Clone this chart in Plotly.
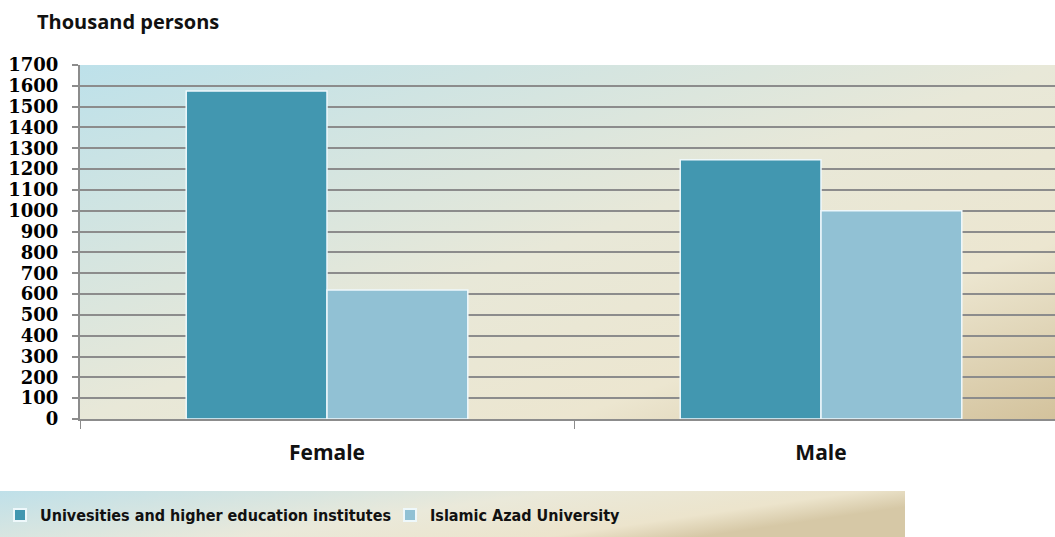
import base64
import plotly.graph_objects as go

categories = ["Female", "Male"]
series_names = ["Univesities and higher education institutes", "Islamic Azad University"]
universities = [1575, 1245]
azad = [620, 1000]
y_ticks = list(range(0, 1800, 100))

colors = ["#4297b0", "#91c1d4"]

W, H = 1055, 537
ML, MR, MT, MB = 80, 0, 65, 118
PW = W - ML - MR
PH = H - MT - MB

def svg_uri(stops, x2="1", y2="1"):
    st = "".join(f'<stop offset="{o}" stop-color="{c}"/>' for o, c in stops)
    svg = (f'<svg xmlns="http://www.w3.org/2000/svg" width="400" height="200" preserveAspectRatio="none" viewBox="0 0 400 200">'
           f'<defs><linearGradient id="g" x1="0" y1="0" x2="{x2}" y2="{y2}">{st}</linearGradient></defs>'
           f'<rect width="400" height="200" fill="url(#g)"/></svg>')
    return "data:image/svg+xml;base64," + base64.b64encode(svg.encode()).decode()

plot_bg = svg_uri([(0, "#bde1ea"), (0.5, "#e8e8d8"), (0.75, "#ece6d0"), (1, "#d3c29c")])
legend_bg = svg_uri([(0, "#bfe0e9"), (0.55, "#eae9da"), (0.85, "#ece4cc"), (1, "#d6c8a6")], x2="1", y2="0.35")

fig = go.Figure()
for name, vals, col in zip(series_names, [universities, azad], colors):
    fig.add_trace(go.Bar(
        x=categories, y=vals, name=name,
        marker=dict(color=col, line=dict(color="#eef8fb", width=1.5)),
    ))

def px_to_paper_x(px):
    return (px - ML) / PW

def px_to_paper_y(py):
    return (H - MB - py) / PH

fig.update_layout(
    width=W, height=H,
    margin=dict(l=ML, r=MR, t=MT, b=MB, pad=0),
    paper_bgcolor="white",
    plot_bgcolor="rgba(0,0,0,0)",
    barmode="group",
    bargap=0.43,
    bargroupgap=0,
    showlegend=True,
    legend=dict(
        orientation="h",
        x=px_to_paper_x(0), xanchor="left",
        y=px_to_paper_y(515), yanchor="middle",
        bgcolor="rgba(0,0,0,0)",
        font=dict(family="DejaVu Sans Condensed, Liberation Sans Narrow, sans-serif", size=16,
                  color="#111", weight="bold"),
        itemsizing="constant",
        itemwidth=30,
        entrywidth=345, entrywidthmode="pixels",
        traceorder="normal",
    ),
    images=[
        dict(source=plot_bg, xref="paper", yref="paper", x=0, y=1,
             sizex=1, sizey=1, sizing="stretch", layer="below", xanchor="left", yanchor="top"),
        dict(source=legend_bg, xref="paper", yref="paper",
             x=px_to_paper_x(0), y=px_to_paper_y(491),
             sizex=px_to_paper_x(905) - px_to_paper_x(0),
             sizey=px_to_paper_y(491) - px_to_paper_y(537),
             sizing="stretch", layer="below", xanchor="left", yanchor="top"),
    ],
    annotations=[
        dict(text="<b>Thousand persons</b>", xref="paper", yref="paper",
             x=px_to_paper_x(35), y=px_to_paper_y(22), xanchor="left", yanchor="middle",
             showarrow=False, font=dict(family="Open Sans, Lato, sans-serif", size=20, color="#111")),
    ],
)

fig.update_yaxes(
    range=[0, 1700],
    tickvals=y_ticks,
    ticktext=[f"<b>{v}</b>" for v in y_ticks],
    tickfont=dict(family="DejaVu Serif, Liberation Serif, serif", size=18, color="#000"),
    showgrid=True, gridcolor="#8c8c8c", gridwidth=2,
    showline=True, linecolor="#8c8c8c", linewidth=2,
    ticks="outside", ticklen=6, tickcolor="#8c8c8c", tickwidth=2,
    zeroline=False,
    ticklabelstandoff=10,
)
fig.update_xaxes(
    range=[-0.5, -0.5 + PW / 494],
    showline=True, linecolor="#8c8c8c", linewidth=2,
    ticks="outside", tickson="boundaries", ticklen=8, tickcolor="#8c8c8c", tickwidth=1,
    tickfont=dict(family="Open Sans, Lato, sans-serif", size=21, color="#111"),
    ticktext=[f"<b>{c}</b>" for c in categories], tickvals=categories,
    ticklabelstandoff=14,
    showgrid=False,
)

fig.write_html("out.html", config={"displayModeBar": False},
               post_script="document.body.style.margin='0';document.body.style.padding='0';")
